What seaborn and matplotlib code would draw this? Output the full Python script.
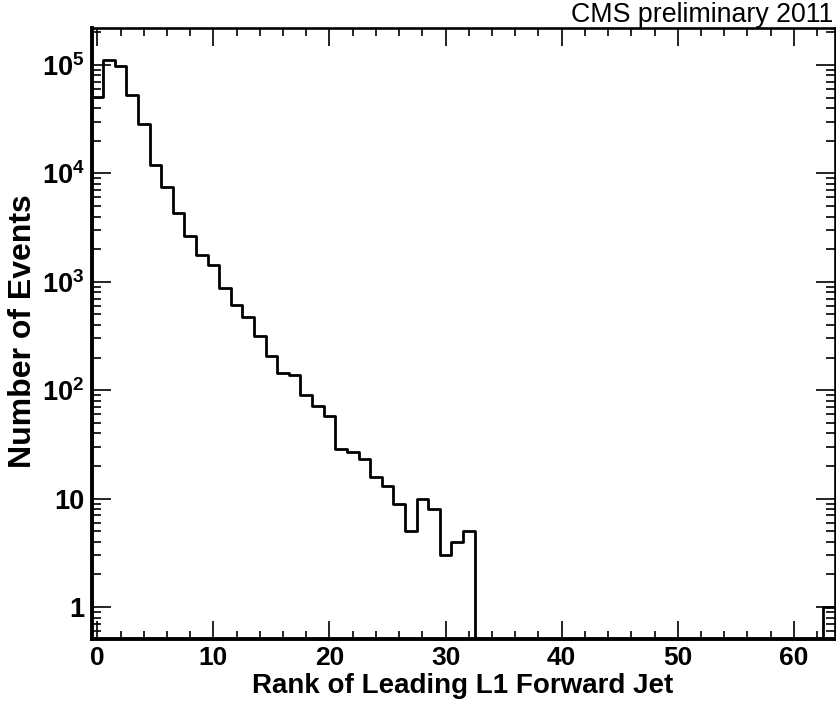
import numpy as np
import matplotlib
matplotlib.use("Agg")
import matplotlib.pyplot as plt
import matplotlib.ticker as mticker
import seaborn as sns

# bin centres (rank 0..63) and event counts
rank = list(range(64))
counts = [50200, 111700, 98400, 52400, 28800, 11900, 7520, 4300,
          2630, 1770, 1420, 873, 610, 475, 316, 209,
          143, 139, 90, 72, 58, 29, 27, 23,
          16, 13, 9, 5, 10, 8, 3, 4,
          5] + [0] * 30 + [1]

x_ticks = [0, 10, 20, 30, 40, 50, 60]
xlabel = "Rank of Leading L1 Forward Jet"
ylabel = "Number of Events"
note = "CMS preliminary 2011"

sns.set_style("ticks")
plt.rcParams["font.family"] = ["Liberation Sans", "DejaVu Sans"]
plt.rcParams["text.color"] = "black"
plt.rcParams["axes.labelcolor"] = "black"
plt.rcParams["mathtext.fontset"] = "custom"
plt.rcParams["mathtext.rm"] = "Liberation Sans:bold"
plt.rcParams["mathtext.bf"] = "Liberation Sans:bold"
plt.rcParams["mathtext.default"] = "bf"

fig = plt.figure(figsize=(8.36, 7.02), dpi=100, facecolor="white")
ax = fig.add_axes([91.5 / 836, 63 / 702, 743 / 836, 611 / 702])

sns.histplot(x=rank, weights=counts, discrete=True, element="step",
             fill=False, color="black", linewidth=2.0, ax=ax)
ax.set_yscale("log")
ax.set_xlim(-0.5, 63.5)
ax.set_ylim(0.508, 2.19e5)

# ROOT-like ticks on all sides, pointing in
ax.xaxis.set_major_locator(mticker.FixedLocator(x_ticks))
ax.xaxis.set_minor_locator(mticker.MultipleLocator(2))
ax.yaxis.set_major_locator(mticker.LogLocator(base=10, numticks=10))
ax.yaxis.set_minor_locator(mticker.LogLocator(base=10, subs=np.arange(2, 10), numticks=20))


def fmt_log(v, pos):
    e = int(round(np.log10(v)))
    if e == 0:
        return "1"
    if e == 1:
        return "10"
    return "$10^{%d}$" % e


ax.yaxis.set_major_formatter(mticker.FuncFormatter(fmt_log))
ax.yaxis.set_minor_formatter(mticker.NullFormatter())

ax.tick_params(which="both", direction="in", top=True, right=True, width=1.2,
               color="black", labelcolor="black")
ax.tick_params(axis="x", which="major", length=13, pad=5, labelsize=19)
ax.tick_params(axis="x", which="minor", length=6)
ax.tick_params(axis="y", which="major", length=14, pad=5, labelsize=19.5)
ax.tick_params(axis="y", which="minor", length=6.5)
for lab in ax.get_xticklabels() + ax.get_yticklabels():
    lab.set_fontweight("bold")

for side in ["left", "bottom"]:
    ax.spines[side].set_linewidth(2.8)
for side in ["top", "right"]:
    ax.spines[side].set_linewidth(1.9)
for s in ax.spines.values():
    s.set_color("black")

ax.set_xlabel("")
ax.set_ylabel("")
fig.text(462.5 / 836, 1 - 693 / 702, xlabel, ha="center", va="baseline",
         fontsize=20, fontweight="bold")
fig.text(23 / 836, 1 - 331 / 702, ylabel, ha="center", va="center",
         rotation=90, fontsize=23, fontweight="bold")
fig.text(833 / 836, 1 - 21.7 / 702, note, ha="right", va="baseline", fontsize=19.3)

fig.savefig("out.png", dpi=100, facecolor="white")
